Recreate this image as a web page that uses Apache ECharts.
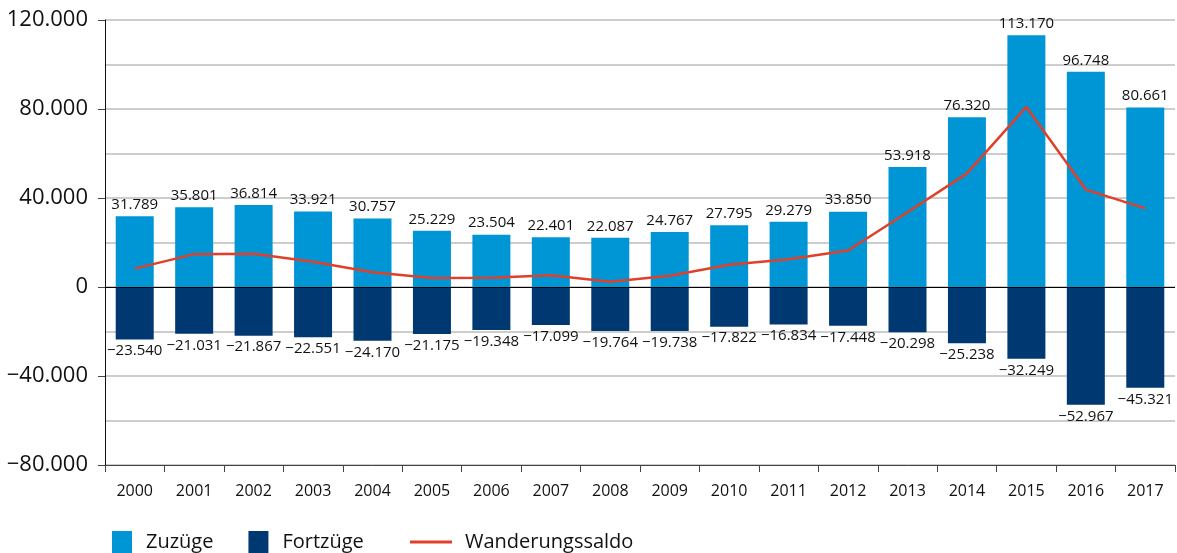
<!DOCTYPE html>
<html>
<head>
<meta charset="utf-8">
<script src="https://cdn.jsdelivr.net/npm/echarts@6/dist/echarts.min.js"></script>
<style>
  html, body { margin: 0; padding: 0; background: #fff; }
  #main { width: 1177px; height: 553px; }
</style>
</head>
<body>
<div id="main"></div>
<script>
var years = ['2000', '2001', '2002', '2003', '2004', '2005', '2006', '2007', '2008',
             '2009', '2010', '2011', '2012', '2013', '2014', '2015', '2016', '2017'];
var zuzuege = [31789, 35801, 36814, 33921, 30757, 25229, 23504, 22401, 22087,
               24767, 27795, 29279, 33850, 53918, 76320, 113170, 96748, 80661];
var fortzuege = [-23540, -21031, -21867, -22551, -24170, -21175, -19348, -17099, -19764,
                 -19738, -17822, -16834, -17448, -20298, -25238, -32249, -52967, -45321];
var saldo = [8249, 14770, 14947, 11370, 6587, 4054, 4156, 5302, 2323,
             5029, 9973, 12445, 16402, 33620, 51082, 80921, 43781, 35340];

var font = 'Open Sans';

function fmt(v) {
    var s = Math.abs(v).toString().replace(/\B(?=(\d{3})+(?!\d))/g, '.');
    return (v < 0 ? '\u2212' : '') + s;
}

var myChart = echarts.init(document.getElementById('main'));
var option = {
    animation: false,
    textStyle: { fontFamily: font },
    grid: { left: 105, right: 2, top: 20, bottom: 88 },
    legend: [
        {
            left: 107, top: 526,
            itemWidth: 20, itemHeight: 22, itemGap: 35,
            icon: 'rect',
            data: ['Zuzüge', 'Fortzüge'],
            textStyle: { fontFamily: font, fontSize: 20, lineHeight: 22, color: '#111', padding: [0, 0, 0, 9] }
        },
        {
            left: 405, top: 526,
            itemWidth: 42, itemHeight: 3,
            icon: 'rect',
            data: ['Wanderungssaldo'],
            textStyle: { fontFamily: font, fontSize: 20, lineHeight: 22, color: '#111', padding: [0, 0, 0, 8] }
        }
    ],
    xAxis: {
        type: 'category',
        data: years,
        axisLine: { onZero: false, lineStyle: { color: '#444', width: 1 } },
        axisTick: { show: true, length: 7, lineStyle: { color: '#444' } },
        axisLabel: { fontFamily: font, fontSize: 16, color: '#111', margin: 18 }
    },
    yAxis: {
        type: 'value',
        min: -80000,
        max: 120000,
        interval: 40000,
        axisLine: { show: true, lineStyle: { color: '#111' } },
        axisTick: { show: true, length: 7, lineStyle: { color: '#444' } },
        axisLabel: {
            fontFamily: font, fontSize: 22, color: '#111', margin: 17,
            formatter: function (v) { return fmt(v); }
        },
        splitLine: { show: true, lineStyle: { color: '#bdbdbd', width: 1.5 } },
        minorTick: { show: false, splitNumber: 2 },
        minorSplitLine: { show: true, lineStyle: { color: '#bdbdbd', width: 1.5 } }
    },
    series: [
        {
            name: 'Zuzüge',
            type: 'bar',
            stack: 'a',
            barWidth: 38,
            data: zuzuege,
            itemStyle: { color: '#0096d6' },
            label: {
                show: true, position: 'top', distance: 4,
                fontFamily: font, fontSize: 15, color: '#111',
                formatter: function (p) { return fmt(p.value); }
            },
            markLine: {
                silent: true,
                symbol: 'none',
                label: { show: false },
                lineStyle: { color: '#000', width: 1.2, type: 'solid' },
                data: [{ yAxis: 0 }],
                z: 5
            }
        },
        {
            name: 'Fortzüge',
            type: 'bar',
            stack: 'a',
            barWidth: 38,
            data: fortzuege,
            itemStyle: { color: '#003871' },
            label: {
                show: true, position: 'bottom', distance: 4,
                fontFamily: font, fontSize: 15, color: '#111',
                formatter: function (p) { return fmt(p.value); }
            }
        },
        {
            name: 'Wanderungssaldo',
            type: 'line',
            data: saldo,
            symbol: 'none',
            lineStyle: { color: '#e0402a', width: 2.5 },
            itemStyle: { color: '#e0402a' },
            z: 10
        }
    ]
};
myChart.setOption(option);
</script>
</body>
</html>
